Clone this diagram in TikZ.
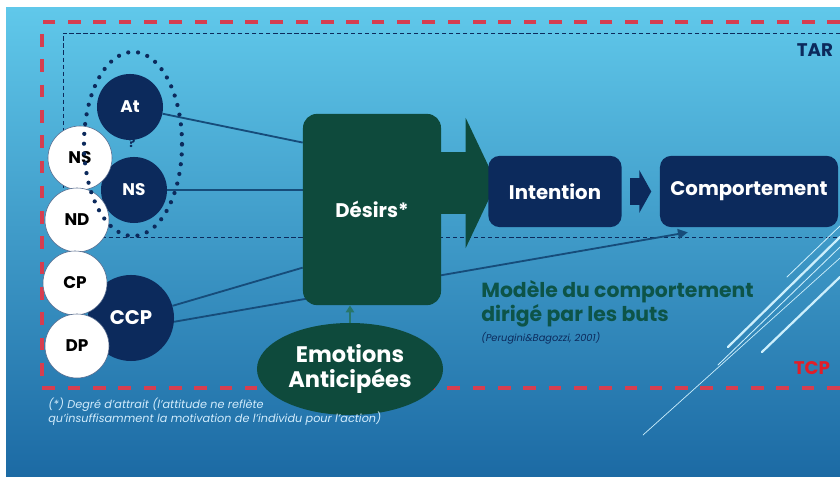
\documentclass[tikz,border=0pt]{standalone}
\usepackage{fontspec}
\setmainfont{Poppins}
\usetikzlibrary{positioning,shapes.geometric,arrows.meta}

\definecolor{navy}{RGB}{12,42,92}
\definecolor{desgreen}{RGB}{14,74,60}
\definecolor{modgreen}{RGB}{13,84,72}
\definecolor{linkblue}{RGB}{22,76,122}
\definecolor{emolink}{RGB}{40,118,104}
\definecolor{dashred}{RGB}{214,62,80}
\definecolor{tcpred}{RGB}{226,30,40}
\definecolor{bgtop}{RGB}{96,200,234}
\definecolor{bgmid}{RGB}{58,160,212}
\definecolor{bgbot}{RGB}{28,106,164}
\definecolor{notecol}{RGB}{210,236,252}

\pgfdeclarelayer{bg}
\pgfdeclarelayer{links}
\pgfsetlayers{bg,links,main}

\tikzset{
  darkc/.style={circle, fill=navy, text=white, inner sep=0pt, font=\bfseries\fontsize{12}{12}\selectfont},
  whitec/.style={circle, fill=white, draw=navy!70, thin, text=black, inner sep=0pt, minimum size=1.6cm, font=\bfseries\fontsize{12}{12}\selectfont},
  box/.style={rounded corners=8pt, fill=navy, text=white, minimum height=1.78cm, font=\bfseries\fontsize{14}{14}\selectfont},
  link/.style={draw=linkblue, line width=1.3pt},
  reddash/.style={draw=dashred, line width=2.2pt, dash pattern=on 9pt off 9pt},
  bluedash/.style={draw=navy, line width=0.6pt, dash pattern=on 3pt off 2pt},
  deco/.style={draw=white!80!cyan, line cap=round},
}

\begin{document}
\begin{tikzpicture}[x=0.025cm, y=-0.025cm]
\useasboundingbox (0,0) rectangle (840,477);

% left part: attitudes and norms
\node[darkc, minimum size=1.65cm] (at) at (130,107) {At};
\node[darkc, minimum size=1.65cm] (ns) at (134,190) {NS};
\node[text=navy, font=\bfseries\fontsize{9}{9}\selectfont] (q) at (132,143) {?};
\node[darkc, minimum size=2.15cm, font=\bfseries\fontsize{14}{14}\selectfont] (ccp) at (131,318) {CCP};
\node[whitec] (nsw) at (80,158) {NS};
\node[whitec] (nd) at (77,220) {ND};
\node[whitec] (cp) at (75,283) {CP};
\node[whitec] (dp) at (77,346) {DP};
\node[ellipse, draw=navy, line width=3pt, dash pattern=on 0pt off 7pt, line cap=round,
      minimum width=2.45cm, minimum height=4.6cm] (grp) at (133,144) {};

% centre and right
\node[rounded corners=10pt, fill=desgreen, text=white, minimum width=3.45cm, minimum height=4.78cm,
      font=\bfseries\fontsize{14}{14}\selectfont] (des) at (372,209.5) {Désirs*};
\node[box, minimum width=3.33cm] (int) at (555,191.5) {Intention};
\node[box, minimum width=4.45cm] (com) at (749,191.5) {Comportement};
\node[ellipse, fill=desgreen, text=white, inner sep=0pt, minimum width=4.65cm, minimum height=2.3cm,
      align=center, font=\bfseries\fontsize{16}{18}\selectfont] (emo) at (350,369) {Emotions\\Anticipées};

\node[anchor=north west, align=left, inner sep=0pt, text=modgreen,
      font=\bfseries\fontsize{14.5}{17.5}\selectfont] (mod) at (481,280) {Modèle du comportement\\dirigé par les buts};
\node[below=3pt of mod.south west, anchor=north west, inner sep=0pt, text=navy,
      font=\itshape\fontsize{7}{7}\selectfont] (cite) {(Perugini\&Bagozzi, 2001)};
\node[anchor=north west, align=left, inner sep=0pt, text=notecol,
      font=\itshape\fontsize{8}{10}\selectfont] (fn) at (48,398)
      {(*) Degré d’attrait (l’attitude ne reflète\\qu’insuffisamment la motivation de l’individu pour l’action)};
\node[text=navy, font=\bfseries\fontsize{13}{13}\selectfont] (tar) at (815,50) {TAR};
\node[text=tcpred, font=\bfseries\fontsize{13}{13}\selectfont] (tcp) at (812,368) {TCP};

% connectors
\begin{pgfonlayer}{links}
\draw[link] (at) -- (des.136);
\draw[link] (ns) -- (des.west |- ns);
\draw[link] (ccp) -- (des.220);
\draw[link, -{Triangle[length=7pt,width=7pt]}] (ccp.-5) -- ([xshift=20pt,yshift=-3.5pt]com.south west);
\draw[desgreen, line width=44.7pt, -{Triangle[length=22pt,width=92pt]}, shorten >=-6pt]
  (des.east |- 0,183) -- (int.west |- 0,183);
\end{pgfonlayer}
\draw[navy, line width=19pt, -{Triangle[length=8.5pt,width=30pt]}, shorten <=6pt, shorten >=6pt] (int) -- (com);
\draw[emolink, line width=1.5pt, -{Triangle[length=5pt,width=6pt]}] (emo.north) -- (emo.north |- des.south);

% background and frames
\begin{pgfonlayer}{bg}
\shade[top color=bgtop, middle color=bgmid, bottom color=bgbot] (6,8) rectangle (840,477);
\draw[bluedash] (840,33) -- (63,33) -- (63,237) -- (840,237);
\draw[reddash] (840,22) -- (42,22) -- (42,388) -- (840,388);
\draw[deco, line width=0.5pt] (643,435) -- (840,258);
\draw[deco, line width=1.6pt] (728,347) -- (840,237);
\draw[deco, line width=0.6pt] (718,365) -- (840,247);
\draw[deco, line width=1.6pt] (762,352) -- (840,277);
\draw[deco, line width=0.6pt] (787,277) -- (840,226);
\end{pgfonlayer}
\end{tikzpicture}
\end{document}
